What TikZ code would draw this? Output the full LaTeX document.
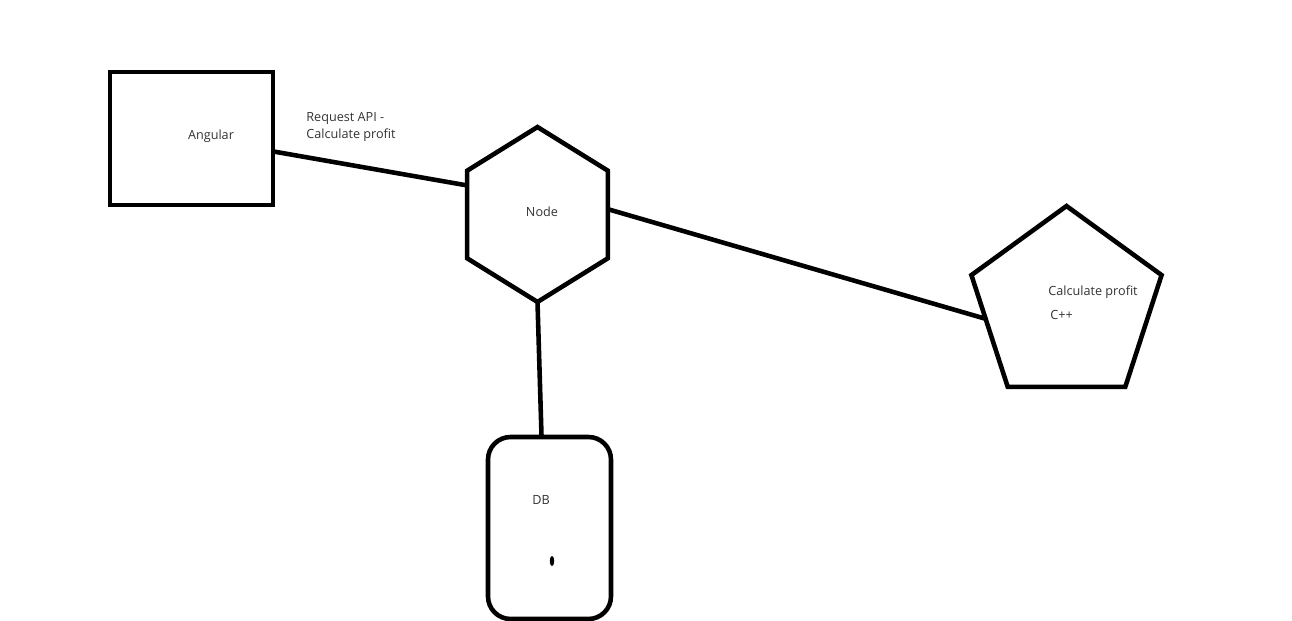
\documentclass[tikz,border=0pt]{standalone}
\usepackage{fontspec}
\setmainfont{Open Sans}
\usetikzlibrary{shapes.geometric}
\definecolor{labelgray}{HTML}{333333}

\begin{document}
\begin{tikzpicture}[x=0.02cm,y=-0.02cm]
        \tikzstyle{box}=[rectangle,draw=black,line width=2.6pt,inner sep=0pt,outer sep=0pt,minimum width=3.26cm,minimum height=2.66cm]
        \tikzstyle{hexa}=[regular polygon,regular polygon sides=6,regular polygon rotate=30,draw=black,line width=2.6pt,inner sep=0pt,outer sep=0pt,minimum size=3.5cm,xscale=0.93]
        \tikzstyle{penta}=[regular polygon,regular polygon sides=5,draw=black,line width=2.6pt,inner sep=0pt,outer sep=0pt,minimum size=4.0cm]
        \tikzstyle{store}=[rectangle,rounded corners=0.45cm,draw=black,line width=2.6pt,inner sep=0pt,outer sep=0pt,minimum width=2.46cm,minimum height=3.64cm]
        \tikzstyle{lbl}=[inner sep=0pt,text=labelgray,font=\fontsize{7.2}{10.2}\selectfont]
        \tikzstyle{link}=[draw,line width=2.6pt]
        \useasboundingbox (0,0) rectangle (1292,621);
        \begin{scope}
          \node [box] (ang) at (191.5,138.5) {};
          \node [hexa] (hex) at (537.5,214.5) {};
          \node [penta] (pent) at (1066.5,306) {};
          \node [store] (db) at (549.5,528) {};
          \fill (552,561) ellipse [x radius=0.045cm,y radius=0.1cm];
          % texts
          \node [lbl] (angtxt) at (211,136) {Angular};
          \node [lbl,align=left,anchor=west] (reqtxt) at (306,127) {Request API -\\Calculate profit};
          \node [lbl] (hextxt) at (542,212) {Node};
          \node [lbl,anchor=west] (calctxt) at (1048,292) {Calculate profit};
          \node [lbl,anchor=west] (cpptxt) at (1050,315) {C++};
          \node [lbl] (dbtxt) at (541,500) {DB};
          % connectors
          \path[link] (ang.-9) -- (hex.159);
          \path[link] (hex.4) -- (pent.189);
          \path[link] (hex.-90) -- (db.95);
        \end{scope}
\end{tikzpicture}
\end{document}
